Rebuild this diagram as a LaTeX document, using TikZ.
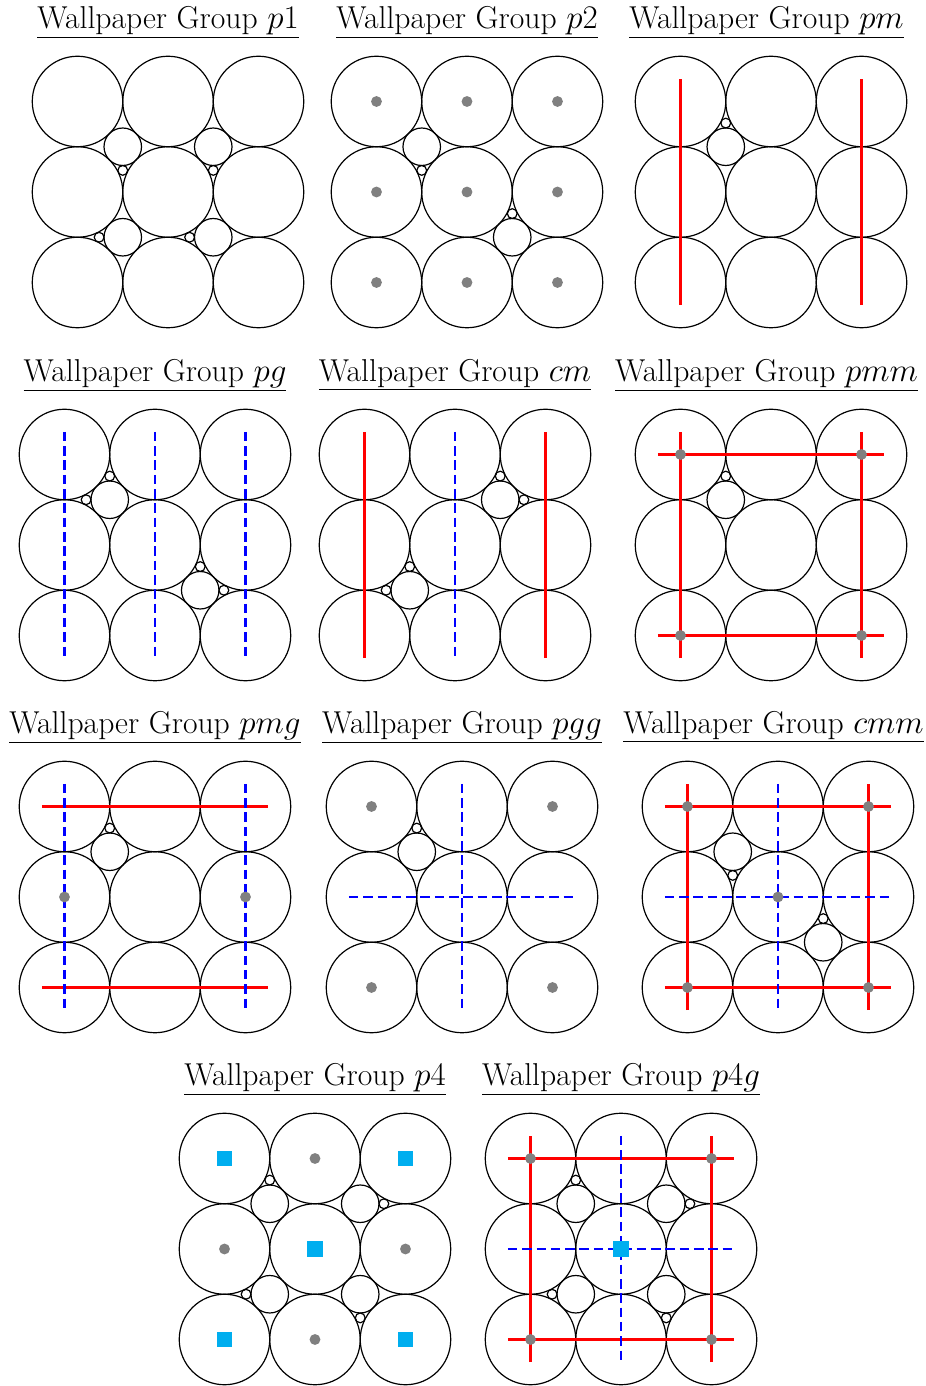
\documentclass[tikz,border=0pt]{standalone}
\usetikzlibrary{positioning}
\definecolor{sqcyan}{HTML}{00AEEF}
\tikzset{
  pics/lattice/.style={code={
    \foreach \i in {-2,0,2}
      \foreach \j in {-2,0,2}
        \draw[disc] (\i,\j) circle[radius=1];
  }},
}

\begin{document}
\begin{tikzpicture}[
  x=1cm, y=1cm,
  every node/.style={font=\fontsize{19.9}{24}\selectfont},
  disc/.style   = {draw=black, line width=0.75pt},
  gapbig/.style = {disc, radius=0.4142},
  gapsml/.style = {disc, radius=0.1082},
  mirror/.style = {draw=red, line width=1.4pt},
  glide/.style  = {draw=blue, line width=1.4pt, dash pattern=on 6pt off 3pt},
  rot2/.style   = {fill=gray},
  rot4/.style   = {fill=sqcyan},
  title/.style  = {anchor=base, inner sep=0pt},
]
  \useasboundingbox (0,0) rectangle (20.442,-30.630);

  % row 1
  \begin{scope}[shift={(3.713,-4.243)}]
    \pic {lattice};
    \foreach \x/\y in {-1/1, 1/1, -1/-1, 1/-1} \draw[gapbig] (\x,\y) circle;
    \foreach \x/\y in {-1/0.4776, 1/0.4776, -1.5224/-1, 0.4776/-1} \draw[gapsml] (\x,\y) circle;
    \node[title] (t-p1) at (0,3.62) {\underline{Wallpaper Group $p1$}};
  \end{scope}

  \begin{scope}[shift={(10.320,-4.243)}]
    \pic {lattice};
    \foreach \x/\y in {-1/1, 1/-1} \draw[gapbig] (\x,\y) circle;
    \foreach \x/\y in {-1/0.4776, 1/-0.4776} \draw[gapsml] (\x,\y) circle;
    \foreach \i in {-2,0,2}
      \foreach \j in {-2,0,2}
        \fill[rot2] (\i,\j) circle[radius=0.12];
    \node[title] (t-p2) at (0,3.62) {\underline{Wallpaper Group $p2$}};
  \end{scope}

  \begin{scope}[shift={(17.039,-4.243)}]
    \pic {lattice};
    \draw[gapbig] (-1,1) circle;
    \draw[gapsml] (-1,1.5224) circle;
    \foreach \x in {-2,2} \draw[mirror] (\x,-2.5) -- (\x,2.5);
    \node[title] (t-pm) at (-0.1,3.62) {\underline{Wallpaper Group $pm$}};
  \end{scope}

  % row 2
  \begin{scope}[shift={(3.425,-12.044)}]
    \pic {lattice};
    \foreach \x/\y in {-1/1, 1/-1} \draw[gapbig] (\x,\y) circle;
    \foreach \x/\y in {-1/1.5224, -1.5224/1, 1/-0.4776, 1.5224/-1} \draw[gapsml] (\x,\y) circle;
    \foreach \x in {-2,0,2} \draw[glide] (\x,2.5) -- (\x,-2.5);
    \node[title] (t-pg) at (0,3.62) {\underline{Wallpaper Group $pg$}};
  \end{scope}

  \begin{scope}[shift={(10.055,-12.044)}]
    \pic {lattice};
    \foreach \x/\y in {1/1, -1/-1} \draw[gapbig] (\x,\y) circle;
    \foreach \x/\y in {1/1.5224, 1.5224/1, -1/-0.4776, -1.5224/-1} \draw[gapsml] (\x,\y) circle;
    \foreach \x in {-2,2} \draw[mirror] (\x,-2.5) -- (\x,2.5);
    \draw[glide] (0,2.5) -- (0,-2.5);
    \node[title] (t-cm) at (0,3.62) {\underline{Wallpaper Group $cm$}};
  \end{scope}

  \begin{scope}[shift={(17.039,-12.044)}]
    \pic {lattice};
    \draw[gapbig] (-1,1) circle;
    \draw[gapsml] (-1,1.5224) circle;
    \foreach \x in {-2,2} \draw[mirror] (\x,-2.5) -- (\x,2.5);
    \foreach \y in {-2,2} \draw[mirror] (-2.5,\y) -- (2.5,\y);
    \foreach \x/\y in {-2/-2, -2/2, 2/-2, 2/2} \fill[rot2] (\x,\y) circle[radius=0.12];
    \node[title] (t-pmm) at (-0.1,3.62) {\underline{Wallpaper Group $pmm$}};
  \end{scope}

  % row 3
  \begin{scope}[shift={(3.425,-19.823)}]
    \pic {lattice};
    \draw[gapbig] (-1,1) circle;
    \draw[gapsml] (-1,1.5224) circle;
    \foreach \y in {-2,2} \draw[mirror] (-2.5,\y) -- (2.5,\y);
    \foreach \x in {-2,2} \draw[glide] (\x,2.5) -- (\x,-2.5);
    \foreach \x in {-2,2} \fill[rot2] (\x,0) circle[radius=0.12];
    \node[title] (t-pmg) at (0,3.62) {\underline{Wallpaper Group $pmg$}};
  \end{scope}

  \begin{scope}[shift={(10.210,-19.823)}]
    \pic {lattice};
    \draw[gapbig] (-1,1) circle;
    \draw[gapsml] (-1,1.5224) circle;
    \draw[glide] (0,2.5) -- (0,-2.5);
    \draw[glide] (-2.5,0) -- (2.5,0);
    \foreach \x/\y in {-2/-2, -2/2, 2/-2, 2/2} \fill[rot2] (\x,\y) circle[radius=0.12];
    \node[title] (t-pgg) at (0,3.62) {\underline{Wallpaper Group $pgg$}};
  \end{scope}

  \begin{scope}[shift={(17.193,-19.823)}]
    \pic {lattice};
    \foreach \x/\y in {-1/1, 1/-1} \draw[gapbig] (\x,\y) circle;
    \foreach \x/\y in {-1/0.4776, 1/-0.4776} \draw[gapsml] (\x,\y) circle;
    \foreach \x in {-2,2} \draw[mirror] (\x,-2.5) -- (\x,2.5);
    \foreach \y in {-2,2} \draw[mirror] (-2.5,\y) -- (2.5,\y);
    \draw[glide] (0,2.5) -- (0,-2.5);
    \draw[glide] (-2.5,0) -- (2.5,0);
    \foreach \x/\y in {-2/-2, -2/2, 2/-2, 2/2, 0/0} \fill[rot2] (\x,\y) circle[radius=0.12];
    \node[title] (t-cmm) at (-0.1,3.62) {\underline{Wallpaper Group $cmm$}};
  \end{scope}

  % row 4
  \begin{scope}[shift={(6.961,-27.602)}]
    \pic {lattice};
    \foreach \x/\y in {-1/1, 1/1, -1/-1, 1/-1} \draw[gapbig] (\x,\y) circle;
    \foreach \x/\y in {-1/1.5224, 1.5224/1, -1.5224/-1, 1/-1.5224} \draw[gapsml] (\x,\y) circle;
    \foreach \x/\y in {0/-2, 0/2, -2/0, 2/0} \fill[rot2] (\x,\y) circle[radius=0.12];
    \foreach \x/\y in {-2/-2, -2/2, 2/-2, 2/2, 0/0}
      \fill[rot4] (\x-0.17,\y-0.17) rectangle (\x+0.17,\y+0.17);
    \node[title] (t-p4) at (0,3.62) {\underline{Wallpaper Group $p4$}};
  \end{scope}

  \begin{scope}[shift={(13.724,-27.602)}]
    \pic {lattice};
    \foreach \x/\y in {-1/1, 1/1, -1/-1, 1/-1} \draw[gapbig] (\x,\y) circle;
    \foreach \x/\y in {-1/1.5224, 1.5224/1, -1.5224/-1, 1/-1.5224} \draw[gapsml] (\x,\y) circle;
    \foreach \x in {-2,2} \draw[mirror] (\x,-2.5) -- (\x,2.5);
    \foreach \y in {-2,2} \draw[mirror] (-2.5,\y) -- (2.5,\y);
    \draw[glide] (0,2.5) -- (0,-2.5);
    \draw[glide] (-2.5,0) -- (2.5,0);
    \foreach \x/\y in {-2/-2, -2/2, 2/-2, 2/2} \fill[rot2] (\x,\y) circle[radius=0.12];
    \fill[rot4] (-0.17,-0.17) rectangle (0.17,0.17);
    \node[title] (t-p4g) at (0,3.62) {\underline{Wallpaper Group $p4g$}};
  \end{scope}
\end{tikzpicture}
\end{document}
